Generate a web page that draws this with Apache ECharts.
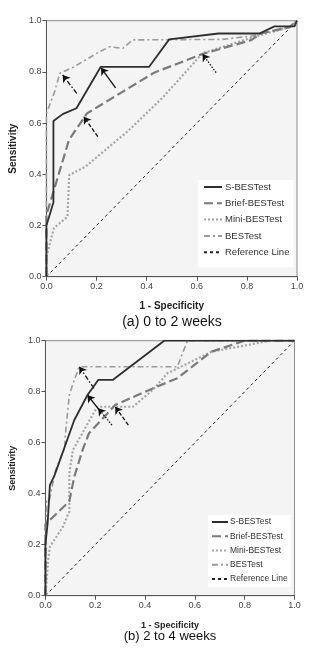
<!DOCTYPE html>
<html>
<head>
<meta charset="utf-8">
<script src="https://cdn.jsdelivr.net/npm/echarts@6/dist/echarts.min.js"></script>
<style>
html,body{margin:0;padding:0;background:#fff;}
#c{width:324px;height:650px;}
</style>
</head>
<body>
<div id="c"></div>
<script>
// ---- Data (x = 1 - Specificity, y = Sensitivity) ----
const seriesNames = ['S-BESTest', 'Brief-BESTest', 'Mini-BESTest', 'BESTest', 'Reference Line'];
const tickLabels = ['0.0', '0.2', '0.4', '0.6', '0.8', '1.0'];
const panelTitles = ['(a) 0 to 2 weeks', '(b) 2 to 4 weeks'];

// Panel (a): 0 to 2 weeks
const sBestA = [[0,0],[0,0.2],[0.028,0.29],[0.028,0.608],[0.065,0.635],[0.12,0.658],[0.217,0.82],[0.41,0.82],[0.49,0.927],[0.687,0.95],[0.85,0.95],[0.91,0.978],[0.99,0.978],[1,1]];
const briefA = [[0,0],[0,0.25],[0.006,0.26],[0.032,0.345],[0.09,0.534],[0.149,0.619],[0.162,0.638],[0.3,0.72],[0.43,0.797],[0.623,0.87],[0.817,0.924],[0.856,0.95],[0.97,0.975],[1,1]];
const miniA = [[0,0],[0,0.078],[0.03,0.19],[0.084,0.234],[0.091,0.397],[0.156,0.43],[0.33,0.573],[0.467,0.703],[0.623,0.873],[0.83,0.937],[0.97,0.975],[1,1]];
const bestA = [[0,0],[0,0.638],[0.032,0.72],[0.054,0.795],[0.11,0.82],[0.214,0.88],[0.253,0.898],[0.305,0.892],[0.344,0.925],[0.70,0.927],[0.82,0.94],[0.97,0.975],[1,1]];

// Panel (b): 2 to 4 weeks
const sBestB = [[0,0],[0,0.2],[0.009,0.284],[0.018,0.434],[0.037,0.473],[0.116,0.689],[0.169,0.787],[0.212,0.846],[0.27,0.846],[0.477,1],[1,1]];
const briefB = [[0,0],[0,0.28],[0.096,0.37],[0.116,0.467],[0.149,0.571],[0.175,0.637],[0.28,0.748],[0.431,0.813],[0.53,0.853],[0.667,0.957],[0.8,1],[1,1]];
const miniB = [[0,0],[0.011,0.14],[0.018,0.192],[0.07,0.27],[0.096,0.33],[0.096,0.48],[0.11,0.571],[0.208,0.741],[0.352,0.741],[0.431,0.807],[0.49,0.872],[0.667,0.957],[0.904,1],[1,1]];
const bestB = [[0,0],[0.005,0.37],[0.015,0.37],[0.04,0.49],[0.077,0.58],[0.08,0.63],[0.096,0.787],[0.116,0.846],[0.136,0.898],[0.53,0.898],[0.57,1],[1,1]];

const refLine = [[0,0],[1,1]];

// Arrow annotations: [tailX, tailY, tipX, tipY, styleIndex]
const arrowsA = [
  [0.276,0.738,0.218,0.816,0],
  [0.205,0.547,0.149,0.625,1],
  [0.677,0.797,0.623,0.870,2],
  [0.121,0.716,0.065,0.788,3]
];
const arrowsB = [
  [0.221,0.722,0.169,0.787,0],
  [0.333,0.669,0.280,0.741,1],
  [0.267,0.669,0.212,0.735,2],
  [0.195,0.813,0.136,0.898,3]
];

// ---- Styles ----
const lineStyles = [
  {color:'#2e2e2e', width:1.8, type:'solid'},
  {color:'#7a7a7a', width:2.2, type:[9,4]},
  {color:'#a5a5a5', width:2.2, type:[2,2]},
  {color:'#9a9a9a', width:1.6, type:[6,3,2,3]},
  {color:'#222', width:1, type:[3,3]}
];
const arrowStyles = [
  {color:'#111', width:1.3, type:'solid'},
  {color:'#111', width:1.3, type:[4,2]},
  {color:'#111', width:1.3, type:[1.5,1.5]},
  {color:'#111', width:1.3, type:[5,2,1.5,2]}
];

const FONT = 'Liberation Sans, Arial, sans-serif';
const grids = [
  {left:40, top:20.7, width:257, height:256},
  {left:40.5, top:340.7, width:254, height:255}
];

function makeAxis(isX, gi) {
  return {
    type:'value', min:0, max:1, interval:0.2, gridIndex:gi,
    name: isX ? '1 - Specificity' : 'Sensitivity',
    nameLocation:'middle',
    nameGap: isX ? 25 : 24,
    nameTextStyle:{fontFamily:FONT, fontWeight:'bold', fontSize: gi===0 ? 10 : 9, color:'#222'},
    axisLine:{show:true, lineStyle:{color:'#555', width:1}},
    axisTick:{show:true, length:4, lineStyle:{color:'#555'}},
    splitLine:{show:false},
    axisLabel:{
      fontFamily:FONT, fontSize:9, color:'#444', margin:5,
      formatter: v => tickLabels[Math.round(v/0.2)]
    }
  };
}

const sets = [[sBestA, briefA, miniA, bestA], [sBestB, briefB, miniB, bestB]];
const arrowSets = [arrowsA, arrowsB];
const series = [];
sets.forEach((set, gi) => {
  set.forEach((d, i) => {
    series.push({
      name: seriesNames[i], type:'line', xAxisIndex:gi, yAxisIndex:gi,
      data:d, symbol:'none', lineStyle:lineStyles[i], itemStyle:{color:lineStyles[i].color},
      silent:true, z: 5 - i
    });
  });
  series.push({
    name: seriesNames[4], type:'line', xAxisIndex:gi, yAxisIndex:gi,
    data:refLine, symbol:'none', lineStyle:lineStyles[4], itemStyle:{color:lineStyles[4].color},
    silent:true, z:1,
    markLine:{
      silent:true, symbol:['none','arrow'], symbolSize:7, animation:false,
      label:{show:false},
      data: arrowSets[gi].map(a => [
        {coord:[a[0],a[1]], lineStyle:arrowStyles[a[4]], itemStyle:{color:'#111'}},
        {coord:[a[2],a[3]]}
      ])
    }
  });
});

const option = {
  animation:false,
  textStyle:{fontFamily:FONT},
  grid: grids.map(g => Object.assign({show:true, backgroundColor:'#f4f4f4', borderColor:'#8a8a8a', borderWidth:1}, g)),
  xAxis:[makeAxis(true,0), makeAxis(true,1)],
  yAxis:[makeAxis(false,0), makeAxis(false,1)],
  title:[
    {text:panelTitles[0], left:172, top:315, textAlign:'center', padding:0,
     textStyle:{fontFamily:FONT, fontSize:14, fontWeight:'normal', color:'#111'}},
    {text:panelTitles[1], left:170, top:630, textAlign:'center', padding:0,
     textStyle:{fontFamily:FONT, fontSize:13, fontWeight:'normal', color:'#111'}}
  ],
  legend:[
    {data:seriesNames, orient:'vertical', left:198, top:180, itemWidth:18, itemHeight:10, itemGap:6.3,
     padding:[2,4,10,5], backgroundColor:'#fff', selectedMode:false,
     itemStyle:{opacity:0},
     textStyle:{fontFamily:FONT, fontSize:9.5, color:'#333', padding:[0,0,0,-2]}},
    {data:seriesNames, orient:'vertical', left:208, top:515, itemWidth:16, itemHeight:9, itemGap:5.25,
     padding:[2.5,3,3.5,3], backgroundColor:'#fff', selectedMode:false,
     itemStyle:{opacity:0},
     textStyle:{fontFamily:FONT, fontSize:8.5, color:'#333', padding:[0,0,0,-3]}}
  ],
  series: series
};

const chart = echarts.init(document.getElementById('c'), null, {renderer:'canvas'});
chart.setOption(option);
</script>
</body>
</html>
